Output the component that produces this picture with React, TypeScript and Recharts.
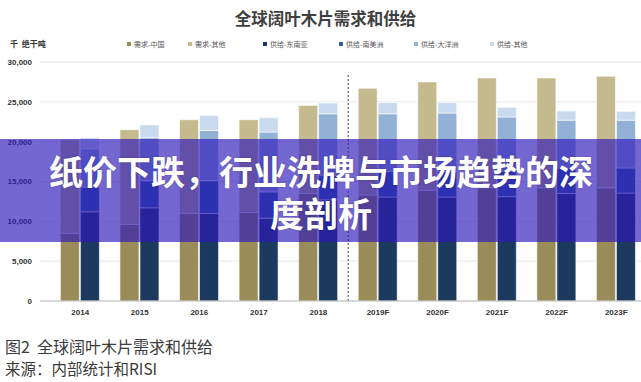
import { BarChart, Bar, XAxis, YAxis, CartesianGrid, ReferenceLine } from 'recharts'

const years = ['2014', '2015', '2016', '2017', '2018', '2019F', '2020F', '2021F', '2022F', '2023F']

// 需求 (千绝干吨)
const demandChina = [8500, 9600, 11000, 11100, 13500, 13300, 13900, 14200, 14200, 14200]
const demandOther = [11750, 11900, 11750, 11650, 11050, 13400, 13600, 13800, 13800, 14000]

// 供给
const supplySEA = [11200, 11700, 11000, 10400, 12700, 13050, 13050, 13100, 13500, 13550]
const supplySA = [3100, 3400, 4100, 3300, 3100, 3200, 3200, 3200, 3200, 3150]
const supplyOceania = [4800, 5400, 6300, 7500, 7700, 7250, 7350, 6800, 6000, 6000]
const supplyOther = [1400, 1600, 1900, 1800, 1350, 1400, 1300, 1200, 1150, 1100]

const yTicks = [0, 5000, 10000, 15000, 20000, 25000, 30000]

const series = [
  { key: 'demandChina', name: '需求-中国', stack: 'demand', color: '#998C58' },
  { key: 'demandOther', name: '需求-其他', stack: 'demand', color: '#C4BA8E' },
  { key: 'supplySEA', name: '供给-东南亚', stack: 'supply', color: '#1B3A5E' },
  { key: 'supplySA', name: '供给-南美洲', stack: 'supply', color: '#2E5F9E' },
  { key: 'supplyOceania', name: '供给-大洋洲', stack: 'supply', color: '#93B1D5' },
  { key: 'supplyOther', name: '供给-其他', stack: 'supply', color: '#C9D9EE' },
]

const chartData = years.map((year, i) => ({
  year,
  demandChina: demandChina[i],
  demandOther: demandOther[i],
  supplySEA: supplySEA[i],
  supplySA: supplySA[i],
  supplyOceania: supplyOceania[i],
  supplyOther: supplyOther[i],
}))

const tickStyle = { fontSize: 8, fill: '#333', fontWeight: 700, fontFamily: 'Liberation Sans' }

const App = () => {
  const legendX = [127, 188, 263, 339, 414, 490]

  return (
    <div
      style={{
        position: 'absolute',
        left: 0,
        top: 0,
        width: 641,
        height: 382,
        overflow: 'hidden',
        background: '#fff',
        fontFamily: '"Noto Sans CJK SC", sans-serif',
      }}
    >
      <div
        style={{
          position: 'absolute',
          top: 6,
          left: 0,
          width: 641,
          textAlign: 'center',
          fontSize: 16.5,
          fontWeight: 700,
          color: '#404040',
          paddingLeft: 10,
          boxSizing: 'border-box',
        }}
      >
        全球阔叶木片需求和供给
      </div>

      <div style={{ position: 'absolute', top: 38, left: 10, fontSize: 8, fontWeight: 700, color: '#333' }}>
        千&nbsp;&nbsp;绝干吨
      </div>

      {/* 범례 */}
      {series.map((s, i) => (
        <div
          key={s.key}
          style={{ position: 'absolute', top: 39, left: legendX[i], display: 'flex', alignItems: 'center', gap: 3 }}
        >
          <div style={{ width: 4, height: 4, background: s.color }}></div>
          <span style={{ fontSize: 7, color: '#555' }}>{s.name}</span>
        </div>
      ))}

      <div style={{ position: 'absolute', top: 0, left: 0 }}>
        <BarChart
          width={660}
          height={335}
          data={chartData}
          margin={{ top: 62, right: 14, bottom: 4, left: 0 }}
          barSize={19}
          barGap={1}
        >
          <CartesianGrid vertical={false} stroke="#E8E8E8" />
          <XAxis
            dataKey="year"
            height={30}
            padding={{ left: 10.4, right: 0 }}
            axisLine={{ stroke: '#BDBDBD' }}
            tickLine={false}
            tickSize={0}
            tickMargin={8}
            tick={tickStyle}
            interval={0}
          />
          <YAxis
            width={40}
            domain={[0, 30000]}
            ticks={yTicks}
            axisLine={false}
            tickLine={false}
            tickSize={0}
            tickMargin={8}
            tick={tickStyle}
            tickFormatter={(v) => v.toLocaleString('en-US')}
          />
          {series.map((s) => (
            <Bar
              key={s.key}
              dataKey={s.key}
              name={s.name}
              stackId={s.stack}
              fill={s.color}
              stroke="#fff"
              strokeWidth={0.6}
              isAnimationActive={false}
            />
          ))}
          <ReferenceLine
            segment={[
              { x: '2018', y: 0 },
              { x: '2018', y: 28500 },
            ]}
            position="end"
            stroke="#444"
            strokeDasharray="2 2"
          />
        </BarChart>
      </div>

      {/* overlay banner */}
      <div
        style={{
          position: 'absolute',
          top: 139,
          left: 0,
          width: 641,
          height: 103,
          background: 'rgba(45, 25, 185, 0.66)',
        }}
      ></div>
      <div
        style={{
          position: 'absolute',
          top: 150,
          left: 41,
          width: 560,
          textAlign: 'center',
          fontSize: 34,
          lineHeight: '42px',
          fontWeight: 700,
          color: '#fff',
          textShadow: '0 0 2px rgba(0,0,0,0.25)',
        }}
      >
        纸价下跌，行业洗牌与市场趋势的深度剖析
      </div>

      <div style={{ position: 'absolute', top: 334, left: 5, fontSize: 16, color: '#3a3a3a' }}>图2&nbsp;&nbsp;全球阔叶木片需求和供给</div>
      <div style={{ position: 'absolute', top: 357, left: 5, fontSize: 15.5, color: '#3a3a3a' }}>来源：内部统计和RISI</div>
    </div>
  )
}

export default App
